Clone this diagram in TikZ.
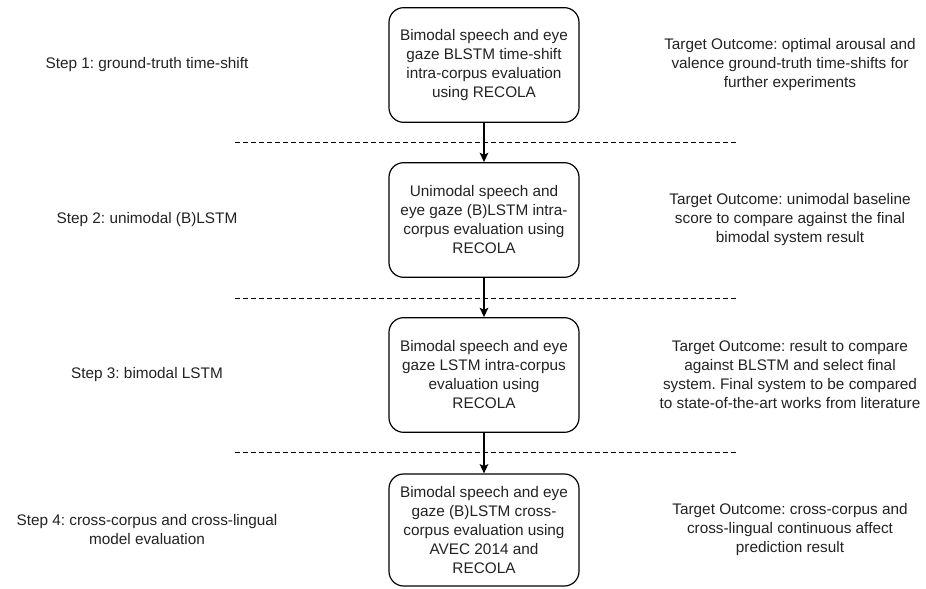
\documentclass[tikz,border=0pt]{standalone}
\usepackage{fontspec}
\setmainfont{Liberation Sans}
\frenchspacing
\usepackage{tikz}
\usetikzlibrary{arrows,arrows.meta,shapes,positioning}
\usepackage{xcolor}
\definecolor{inkgrey}{RGB}{34,34,34}
\tikzstyle{stage} = [rectangle, rounded corners=11pt, minimum width=142.5pt, minimum height=86pt, align=center, draw=black, line width=0.9pt, text=inkgrey]
\tikzstyle{note} = [align=center, text=inkgrey]
\tikzstyle{arrow} = [line width=0.9pt,->,>={Stealth[length=7pt,width=6.5pt,inset=1.5pt]},color=black]
\tikzstyle{separator} = [dash pattern=on 3.5pt off 2.5pt, line width=0.7pt, color=black]

\begin{document}
\begin{tikzpicture}[x=0.75pt, y=0.75pt, node distance=116.25pt, font=\fontsize{11.5}{14.25}\selectfont]
\useasboundingbox (0,0) rectangle (926,589);
% Stages
\node (stage1) [stage] at (484,524) {Bimodal speech and eye\\gaze BLSTM time-shift\\intra-corpus evaluation\\using RECOLA};
\node (stage2) [stage, below of=stage1] {Unimodal speech and\\eye gaze (B)LSTM intra-\\corpus evaluation using\\RECOLA};
\node (stage3) [stage, below of=stage2] {Bimodal speech and eye\\gaze LSTM intra-corpus\\evaluation using\\RECOLA};
\node (stage4) [stage, below of=stage3, minimum height=84pt] {Bimodal speech and eye\\gaze (B)LSTM cross-\\corpus evaluation using\\AVEC 2014 and\\RECOLA};

% Step names
\node (step1) [note, left of=stage1, node distance=252.75pt] {Step 1: ground-truth time-shift};
\node (step2) [note, left of=stage2, node distance=252.75pt] {Step 2: unimodal (B)LSTM};
\node (step3) [note, left of=stage3, node distance=252.75pt] {Step 3: bimodal LSTM};
\node (step4) [note, left of=stage4, node distance=252.75pt] {Step 4: cross-corpus and cross-lingual\\model evaluation};

% Target outcomes
\node (goal1) [note, right of=stage1, node distance=229.5pt] {Target Outcome: optimal arousal and\\valence ground-truth time-shifts for\\further experiments};
\node (goal2) [note, right of=stage2, node distance=229.5pt] {Target Outcome: unimodal baseline\\score to compare against the final\\bimodal system result};
\node (goal3) [note, right of=stage3, node distance=229.5pt] {Target Outcome: result to compare\\against BLSTM and select final\\system. Final system to be compared\\to state-of-the-art works from literature};
\node (goal4) [note, right of=stage4, node distance=229.5pt] {Target Outcome: cross-corpus and\\cross-lingual continuous affect\\prediction result};

% Separators
\foreach \y in {447,291,137}
  \draw[separator] (235,\y) -- (738,\y);

% Arrows
\draw[arrow] (stage1) -- (stage2);
\draw[arrow] (stage2) -- (stage3);
\draw[arrow] (stage3) -- (stage4);
\end{tikzpicture}
\end{document}
